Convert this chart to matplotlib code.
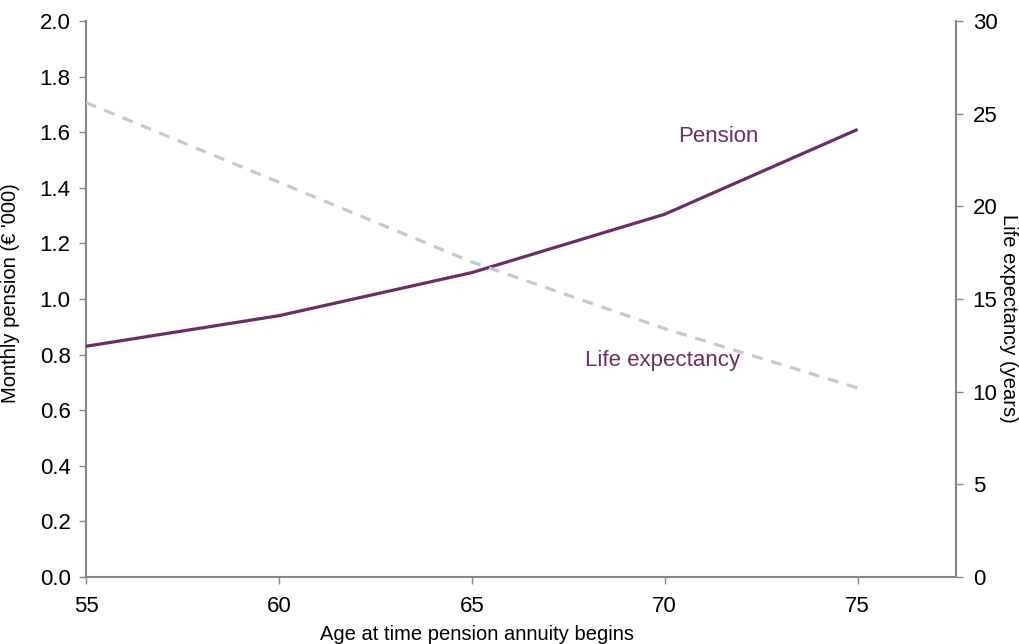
import numpy as np
import matplotlib.pyplot as plt

plt.rcParams['font.family'] = ['Liberation Sans', 'DejaVu Sans']

ages = [55, 60, 65, 70, 75]
pension = [0.83, 0.94, 1.095, 1.305, 1.61]
life_exp = [25.6, 21.3, 17.0, 13.4, 10.2]

purple = '#6B2D66'
dash_col = '#C4C8D6'
axis_col = '#868686'

fig = plt.figure(figsize=(10.19, 6.44), dpi=100)
ax = fig.add_axes([0.0844, 0.104, 0.8538, 0.8634])
ax2 = ax.twinx()

ax.plot(ages, pension, color=purple, lw=2.3, solid_capstyle='butt', zorder=3)
ax2.plot(ages, life_exp, color=dash_col, lw=2.3, ls=(0, (3.4, 2.8)), zorder=2)

ax.set_xlim(55, 77.55)
ax.set_ylim(0, 2.0)
ax2.set_ylim(0, 30)
ax.set_xticks(ages)
ax.set_yticks(np.arange(0, 2.01, 0.2))
ax.set_yticklabels([f'{v:.1f}' for v in np.arange(0, 2.01, 0.2)])
ax2.set_yticks(range(0, 31, 5))

for a in (ax, ax2):
    a.spines['top'].set_visible(False)
    for s in ('left', 'bottom', 'right'):
        a.spines[s].set_color(axis_col)
        a.spines[s].set_linewidth(1.5)
    a.tick_params(colors=axis_col, labelcolor='black', length=5, width=1, labelsize=16)
ax.spines['right'].set_visible(False)
ax2.spines['left'].set_visible(False)
ax2.spines['bottom'].set_visible(False)
ax.tick_params(axis='x', pad=9)
ax.tick_params(axis='y', pad=6)
ax2.tick_params(axis='y', pad=7)

ax.set_xlabel('Age at time pension annuity begins', fontsize=14.5)
ax.xaxis.set_label_coords(0.449, -0.086)
ax.set_ylabel("Monthly pension (\u20ac '000)", fontsize=14.5)
ax.yaxis.set_label_coords(-0.076, 0.51)
ax2.set_ylabel('Life expectancy (years)', fontsize=14.5, rotation=270, va='center')
ax2.yaxis.set_label_coords(1.06, 0.466)

ax.text(71.4, 1.585, 'Pension', color=purple, fontsize=16, ha='center', va='center')
ax.text(69.95, 0.78, 'Life expectancy', color=purple, fontsize=16, ha='center', va='center')

fig.savefig('out.png', dpi=100)
